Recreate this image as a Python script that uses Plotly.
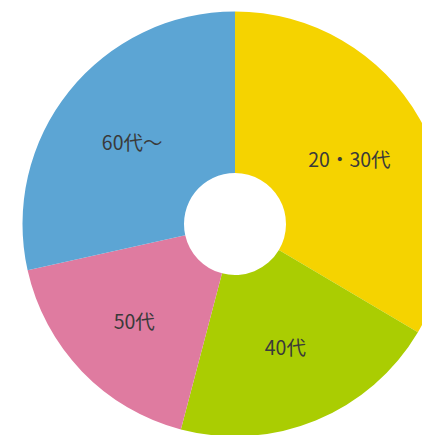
import plotly.graph_objects as go

labels = ["20・30代", "40代", "50代", "60代〜"]
values = [33.5, 20.6, 17.4, 28.5]
colors = ["#F5D300", "#AACD02", "#DF7BA0", "#5CA5D4"]

W, H = 440, 432
cx, cy, r = 227, 216, 212.5

fig = go.Figure(go.Pie(
    labels=labels,
    values=values,
    hole=0.24,
    sort=False,
    direction="clockwise",
    rotation=0,
    marker=dict(colors=colors, line=dict(width=0)),
    textinfo="label",
    textposition="inside",
    insidetextorientation="horizontal",
    textfont=dict(family="Noto Sans CJK JP", size=19.5, color="#3a3a3a"),
    domain=dict(x=[(cx - r) / W, min(1, (cx + r) / W)],
                y=[1 - (cy + r) / H, 1 - (cy - r) / H]),
    showlegend=False,
))
fig.update_layout(
    width=W, height=H,
    margin=dict(l=0, r=0, t=0, b=0),
    paper_bgcolor="white",
    plot_bgcolor="white",
)
fig.write_html("out.html")
